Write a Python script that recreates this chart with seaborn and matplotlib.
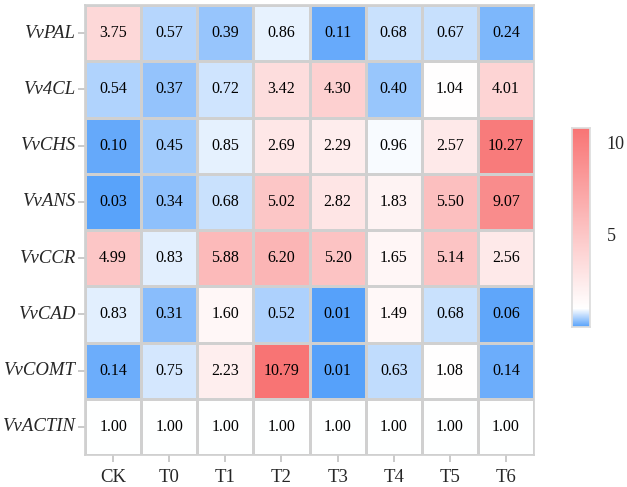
import numpy as np
import pandas as pd
import seaborn as sns
import matplotlib.pyplot as plt
from matplotlib.colors import LinearSegmentedColormap

genes = ['VvPAL', 'Vv4CL', 'VvCHS', 'VvANS', 'VvCCR', 'VvCAD', 'VvCOMT', 'VvACTIN']
groups = ['CK', 'T0', 'T1', 'T2', 'T3', 'T4', 'T5', 'T6']

pal = [3.75, 0.57, 0.39, 0.86, 0.11, 0.68, 0.67, 0.24]
cl4 = [0.54, 0.37, 0.72, 3.42, 4.30, 0.40, 1.04, 4.01]
chs = [0.10, 0.45, 0.85, 2.69, 2.29, 0.96, 2.57, 10.27]
ans = [0.03, 0.34, 0.68, 5.02, 2.82, 1.83, 5.50, 9.07]
ccr = [4.99, 0.83, 5.88, 6.20, 5.20, 1.65, 5.14, 2.56]
cad = [0.83, 0.31, 1.60, 0.52, 0.01, 1.49, 0.68, 0.06]
comt = [0.14, 0.75, 2.23, 10.79, 0.01, 0.63, 1.08, 0.14]
actin = [1.00, 1.00, 1.00, 1.00, 1.00, 1.00, 1.00, 1.00]

df = pd.DataFrame([pal, cl4, chs, ans, ccr, cad, comt, actin], index=genes, columns=groups)

sns.set_theme(style="white")
plt.rcParams['font.family'] = ['Liberation Serif', 'DejaVu Serif']

vmax = df.values.max()
# white sits at 1.0 (reference gene level)
cmap = LinearSegmentedColormap.from_list(
    'bwr_soft', [(0.0, '#55a0fa'), (1.0 / vmax, '#ffffff'), (1.0, '#f87474')], N=2048)

fig = plt.figure(figsize=(6.27, 4.87), dpi=100)
ax = fig.add_axes([0.1356, 0.0657, 0.7161, 0.9240])
cax = fig.add_axes([0.912, 0.3285, 0.029, 0.4085])

sns.heatmap(df, ax=ax, cbar_ax=cax, cmap=cmap, vmin=0, vmax=vmax,
            annot=True, fmt='.2f', annot_kws={'size': 11.5, 'color': 'black'},
            linewidths=0.8, linecolor='#d0d0d0')

for side in ax.spines.values():
    side.set_visible(True)
    side.set_color('#d0d0d0')
ax.tick_params(axis='both', length=5, color='#c4c4c4', labelsize=13.5)
ax.tick_params(axis='x', bottom=True, pad=5)
ax.tick_params(axis='y', left=True, pad=2)
ax.set_xlabel('')
ax.set_ylabel('')
ax.set_yticklabels(genes, rotation=0, style='italic')
ax.set_xticklabels(groups, rotation=0)

cax.set_yticks([5, 10])
cax.tick_params(labelsize=13, length=3, direction='in', color='#eeeeee', pad=12)
for side in cax.spines.values():
    side.set_visible(True)
    side.set_color('#dddddd')

plt.savefig('out.png', dpi=100)
